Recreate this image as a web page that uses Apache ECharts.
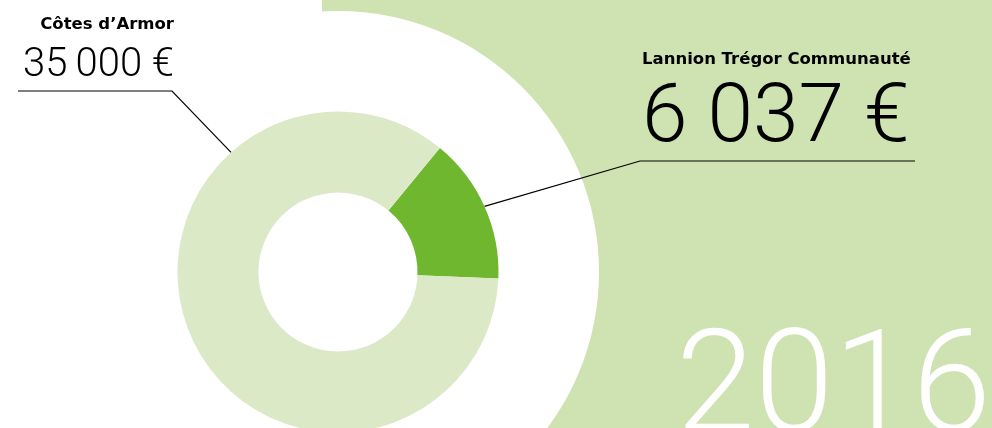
<!DOCTYPE html>
<html>
<head>
<meta charset="utf-8">
<script src="https://cdn.jsdelivr.net/npm/echarts@6/dist/echarts.min.js"></script>
<style>
html,body{margin:0;padding:0;background:#fff;}
#c{width:992px;height:428px;}
</style>
</head>
<body>
<div id="c"></div>
<script>
// ---- data ----
const names = ['Lannion Trégor Communauté', "Côtes d\u2019Armor"];
const values = [6037, 35000];
const valueLabels = ['6 037 \u20ac', '35\u2009000 \u20ac'];
const colors = ['#6fb72e', '#dce9c7'];
const year = '2016';

// ---- layout ----
const CENTER = [338, 272];
const RADIUS = [79.5, 160.5];
const LIGHT_LINE_ANGLE = 131.8; // degrees, where the Côtes d'Armor leader touches the ring

const chart = echarts.init(document.getElementById('c'), null, {renderer: 'canvas'});

const option = {
  backgroundColor: '#ffffff',
  animation: false,
  title: {
    text: year,
    left: 676,
    top: 324,
    padding: 0,
    textStyle: {
      color: '#ffffff',
      fontFamily: 'Roboto',
      fontWeight: 300,
      fontSize: 142,
      lineHeight: 142
    },
    z: 1
  },
  graphic: [
    {type: 'rect', z: -10, shape: {x: 322, y: 0, width: 670, height: 428}, style: {fill: '#cfe2b2'}, silent: true},
    {type: 'circle', z: -9, shape: {cx: CENTER[0], cy: CENTER[1], r: 261}, style: {fill: '#ffffff'}, silent: true}
  ],
  series: [{
    type: 'pie',
    center: CENTER,
    radius: RADIUS,
    startAngle: 50.6,
    clockwise: true,
    avoidLabelOverlap: false,
    silent: true,
    emphasis: {disabled: true},
    z: 2,
    data: values.map((v, i) => ({
      name: names[i],
      value: v,
      itemStyle: {color: colors[i]},
      label: {
        show: true,
        position: 'outside',
        formatter: '{t|' + names[i] + '}\n{v' + i + '|' + valueLabels[i] + '}'
      }
    })),
    label: {
      color: '#000',
      rich: {
        t: {fontFamily: 'DejaVu Sans', fontWeight: 'bold', fontSize: 16.5, lineHeight: 20, color: '#000'},
        v0: {fontFamily: 'Roboto', fontWeight: 300, fontSize: 82, lineHeight: 100, color: '#000'},
        v1: {fontFamily: 'Roboto', fontWeight: 300, fontSize: 40, lineHeight: 62, color: '#000'}
      }
    },
    labelLine: {
      show: true,
      length: 20,
      length2: 20,
      lineStyle: {color: '#000', width: 1.2}
    },
    labelLayout: function (p) {
      if (p.dataIndex === 0) {
        const s = p.labelLinePoints ? p.labelLinePoints[0] : [485, 205];
        return {
          x: 642, y: 50, align: 'left', verticalAlign: 'top',
          labelLinePoints: [s, [640, 161], [915, 161]]
        };
      } else {
        const a = LIGHT_LINE_ANGLE * Math.PI / 180;
        const s = [CENTER[0] + RADIUS[1] * Math.cos(a), CENTER[1] - RADIUS[1] * Math.sin(a)];
        return {
          x: 174, y: 15, align: 'right', verticalAlign: 'top',
          labelLinePoints: [s, [172, 91], [18, 91]]
        };
      }
    }
  }]
};
chart.setOption(option);
</script>
</body>
</html>
